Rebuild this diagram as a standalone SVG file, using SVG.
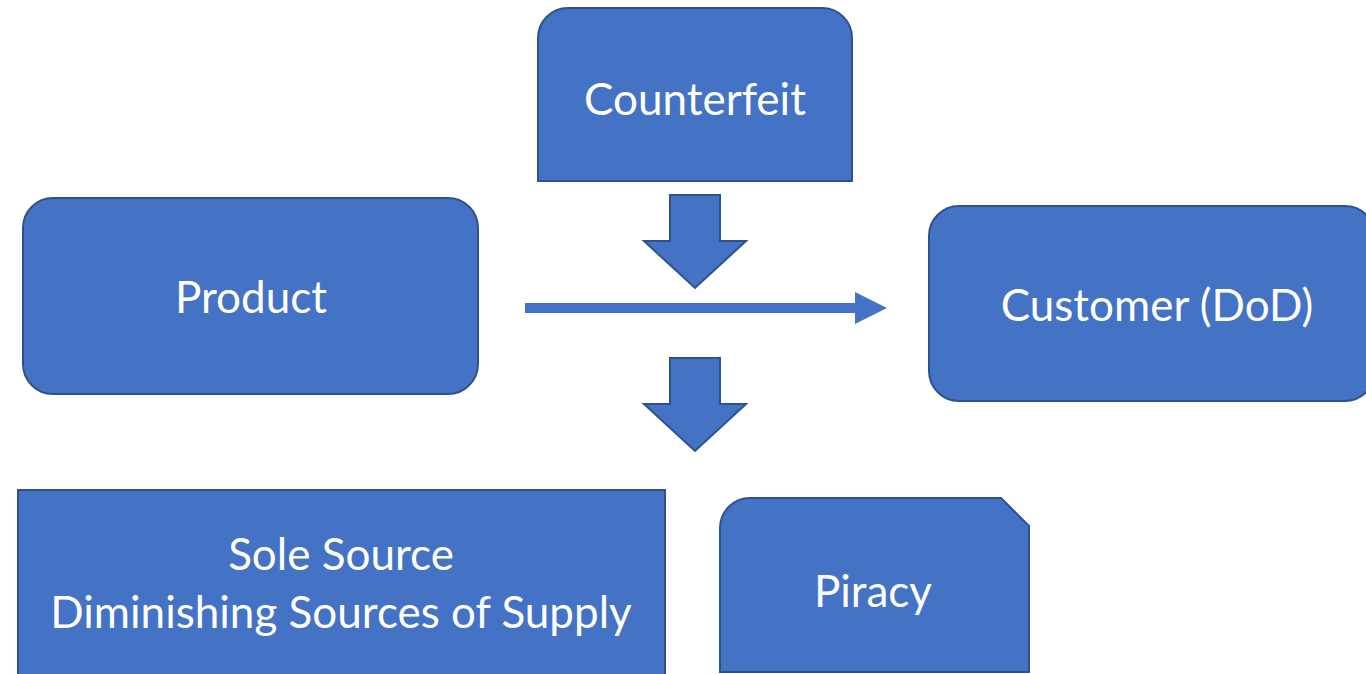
<svg xmlns="http://www.w3.org/2000/svg" width="1366" height="674" viewBox="0 0 1366 674">
  <style>
    .box { fill: #4472C4; stroke: #2F528F; stroke-width: 2; }
    .lbl { fill: #FFFFFF; font-family: Lato, "Open Sans", sans-serif; font-size: 44px; text-anchor: middle; }
    .blk { fill: #4472C4; stroke: #2F528F; stroke-width: 2; stroke-linejoin: miter; }
  </style>
  <rect width="1366" height="674" fill="#FFFFFF"/>

  <!-- Counterfeit: top corners rounded -->
  <g id="counterfeit">
    <path class="box" d="M538,181 V38 A30,30 0 0 1 568,8 H822 A30,30 0 0 1 852,38 V181 Z"/>
    <text class="lbl" x="695" y="115">Counterfeit</text>
  </g>

  <!-- Product -->
  <g id="product">
    <rect class="box" x="23" y="198" width="455" height="196" rx="30" ry="30"/>
    <text class="lbl" x="251" y="313">Product</text>
  </g>

  <!-- Customer (DoD) -->
  <g id="customer">
    <rect class="box" x="929" y="206" width="446" height="195" rx="30" ry="30"/>
    <text class="lbl" x="1157" y="321">Customer (DoD)</text>
  </g>

  <!-- Sole Source / Diminishing Sources of Supply -->
  <g id="sole-source">
    <rect class="box" x="18" y="490" width="647" height="200"/>
    <text class="lbl" x="341" y="570">Sole Source</text>
    <text class="lbl" x="341" y="628">Diminishing Sources of Supply</text>
  </g>

  <!-- Piracy: rounded top-left, snipped top-right -->
  <g id="piracy">
    <path class="box" d="M720,672 V528 A30,30 0 0 1 750,498 H1001 L1029,526 V672 Z"/>
    <text class="lbl" x="873" y="607">Piracy</text>
  </g>

  <g id="connectors">
    <!-- block arrows pointing down -->
    <path class="blk" d="M670,195 H720 V241 H746 L695,288 L644,241 H670 Z"/>
    <path class="blk" d="M670,358 H720 V404 H746 L695,451 L644,404 H670 Z"/>
    <!-- flow line from Product towards Customer -->
    <line x1="525" y1="308" x2="858" y2="308" stroke="#4472C4" stroke-width="10"/>
    <path d="M855,292 L887,308 L855,324 Z" fill="#4472C4"/>
  </g>
</svg>
